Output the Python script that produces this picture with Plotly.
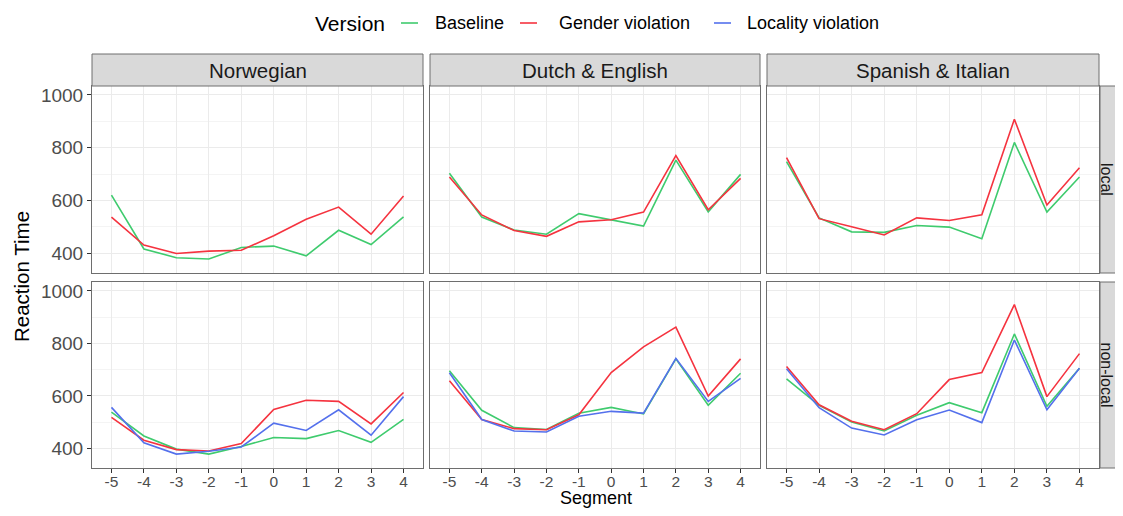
import plotly.graph_objects as go

# ---------------- data ----------------
segments = [-5, -4, -3, -2, -1, 0, 1, 2, 3, 4]
segment_labels = ["-5", "-4", "-3", "-2", "-1", "0", "1", "2", "3", "4"]
languages = ["Norwegian", "Dutch & English", "Spanish & Italian"]
localities = ["local", "non-local"]
versions = ["Baseline", "Gender violation", "Locality violation"]
y_ticks = [400, 600, 800, 1000]
y_minor = [500, 700, 900]

nor_local_base = [620, 416, 383, 378, 422, 427, 390, 487, 433, 538]
nor_local_gender = [537, 431, 399, 408, 411, 466, 529, 575, 472, 617]
dut_local_base = [703, 537, 488, 472, 550, 526, 503, 753, 557, 699]
dut_local_gender = [689, 545, 486, 464, 519, 527, 556, 770, 565, 684]
spa_local_base = [747, 534, 481, 479, 505, 499, 455, 820, 556, 689]
spa_local_gender = [762, 531, 500, 469, 534, 524, 546, 908, 583, 724]

nor_nonlocal_base = [538, 447, 397, 378, 407, 441, 437, 468, 423, 510]
nor_nonlocal_gender = [518, 431, 395, 390, 418, 548, 583, 579, 493, 613]
nor_nonlocal_locality = [556, 421, 378, 389, 405, 496, 468, 547, 450, 597]
dut_nonlocal_base = [696, 545, 479, 472, 534, 556, 531, 741, 564, 686]
dut_nonlocal_gender = [658, 510, 475, 471, 528, 689, 787, 862, 599, 741]
dut_nonlocal_locality = [688, 510, 466, 462, 522, 541, 534, 743, 579, 667]
spa_nonlocal_base = [665, 564, 500, 466, 526, 574, 536, 836, 560, 705]
spa_nonlocal_gender = [712, 566, 503, 471, 532, 662, 689, 948, 597, 761]
spa_nonlocal_locality = [703, 555, 477, 451, 509, 546, 498, 813, 547, 705]

panels = {
    (0, 0): {"Baseline": nor_local_base, "Gender violation": nor_local_gender},
    (0, 1): {"Baseline": dut_local_base, "Gender violation": dut_local_gender},
    (0, 2): {"Baseline": spa_local_base, "Gender violation": spa_local_gender},
    (1, 0): {"Baseline": nor_nonlocal_base, "Gender violation": nor_nonlocal_gender,
             "Locality violation": nor_nonlocal_locality},
    (1, 1): {"Baseline": dut_nonlocal_base, "Gender violation": dut_nonlocal_gender,
             "Locality violation": dut_nonlocal_locality},
    (1, 2): {"Baseline": spa_nonlocal_base, "Gender violation": spa_nonlocal_gender,
             "Locality violation": spa_nonlocal_locality},
}

colors = {"Baseline": "#3FCB6E", "Gender violation": "#F5333F",
          "Locality violation": "#5470EC"}

# ---------------- layout geometry (screen pixels) ----------------
OFF = 8                       # page body margin
W, H = 1123 - 2 * OFF, 516 - 2 * OFF   # fits the window without scrollbars
FONT = "Liberation Sans, Arial, sans-serif"
col_px = [(92, 423), (430, 760), (767, 1099)]
row_px = [(86, 273), (282, 468)]
strip_top = 54
strip_right = (1100, 1140)


def fx(px):
    return (px - OFF) / W


def fy(py):
    return 1 - (py - OFF) / H


fig = go.Figure()
layout = {}
shapes = []
annotations = []

for r in range(2):
    for c in range(3):
        idx = r * 3 + c + 1
        xa = "x" if idx == 1 else f"x{idx}"
        ya = "y" if idx == 1 else f"y{idx}"
        for v in versions:
            if v in panels[(r, c)]:
                fig.add_trace(go.Scatter(
                    x=segments, y=panels[(r, c)][v], mode="lines",
                    line=dict(color=colors[v], width=1.6),
                    name=v, showlegend=False, xaxis=xa, yaxis=ya,
                    hoverinfo="x+y+name"))
        xkey = "xaxis" if idx == 1 else f"xaxis{idx}"
        ykey = "yaxis" if idx == 1 else f"yaxis{idx}"
        bottom = (r == 1)
        left = (c == 0)
        layout[xkey] = dict(
            domain=[fx(col_px[c][0]), fx(col_px[c][1])],
            anchor=ya, range=[-5.6, 4.6],
            tickvals=segments, ticktext=segment_labels,
            showticklabels=bottom, ticks="outside" if bottom else "",
            ticklen=4, tickcolor="#333333", tickwidth=1,
            ticklabelstandoff=-5,
            tickfont=dict(family=FONT, size=15.5, color="#4D4D4D"),
            showgrid=True, gridcolor="#EBEBEB", gridwidth=1,
            zeroline=False, showline=True, mirror=True,
            linecolor="#6E6E6E", linewidth=1, automargin=False,
        )
        layout[ykey] = dict(
            domain=[fy(row_px[r][1]), fy(row_px[r][0])],
            anchor=xa, range=[325, 1034],
            tickvals=y_ticks, ticktext=[str(t) for t in y_ticks],
            showticklabels=left, ticks="outside" if left else "",
            ticklen=4, tickcolor="#333333", tickwidth=1,
            tickfont=dict(family=FONT, size=19, color="#4D4D4D"),
            showgrid=True, gridcolor="#EBEBEB", gridwidth=1,
            minor=dict(tickvals=y_minor, showgrid=True,
                       gridcolor="#F4F4F4", gridwidth=0.8, ticks=""),
            zeroline=False, showline=True, mirror=True,
            linecolor="#6E6E6E", linewidth=1, automargin=False,
        )

# top strips
for c, lang in enumerate(languages):
    shapes.append(dict(type="rect", xref="paper", yref="paper",
                       x0=fx(col_px[c][0]), x1=fx(col_px[c][1]),
                       y0=fy(row_px[0][0]), y1=fy(strip_top),
                       fillcolor="#D9D9D9", line=dict(color="#6E6E6E", width=1)))
    annotations.append(dict(text=lang, xref="paper", yref="paper",
                            x=fx((col_px[c][0] + col_px[c][1]) / 2),
                            y=fy((strip_top + row_px[0][0]) / 2),
                            showarrow=False, xanchor="center", yanchor="middle",
                            font=dict(family=FONT, size=20.5, color="#1A1A1A")))

# right strips
for r, loc in enumerate(localities):
    shapes.append(dict(type="rect", xref="paper", yref="paper",
                       x0=fx(strip_right[0]), x1=fx(strip_right[1]),
                       y0=fy(row_px[r][1]), y1=fy(row_px[r][0]),
                       fillcolor="#D9D9D9", line=dict(color="#6E6E6E", width=1)))
    annotations.append(dict(text=loc, xref="paper", yref="paper",
                            x=fx(1106.5), y=fy((row_px[r][0] + row_px[r][1]) / 2),
                            showarrow=False, xanchor="center", yanchor="middle",
                            textangle=90,
                            font=dict(family=FONT, size=16, color="#1A1A1A")))

# axis titles
annotations.append(dict(text="Segment", xref="paper", yref="paper",
                        x=fx(595.5), y=fy(497.5), showarrow=False,
                        xanchor="center", yanchor="middle",
                        font=dict(family=FONT, size=18, color="#000000")))
annotations.append(dict(text="Reaction Time", xref="paper", yref="paper",
                        x=fx(21), y=fy(277), showarrow=False, textangle=-90,
                        xanchor="center", yanchor="middle",
                        font=dict(family=FONT, size=20.5, color="#000000")))

# legend (drawn manually to mimic ggplot key layout)
leg_y = 23
annotations.append(dict(text="Version", xref="paper", yref="paper",
                        x=fx(349.5), y=fy(leg_y), showarrow=False,
                        xanchor="center", yanchor="middle",
                        font=dict(family=FONT, size=21, color="#000000")))
legend_items = [("Baseline", 401, 418, 469.5),
                ("Gender violation", 520, 537, 624.5),
                ("Locality violation", 714, 731, 812.5)]
for name, lx0, lx1, tx in legend_items:
    shapes.append(dict(type="line", xref="paper", yref="paper",
                       x0=fx(lx0), x1=fx(lx1), y0=fy(leg_y), y1=fy(leg_y),
                       line=dict(color=colors[name], width=1.6)))
    annotations.append(dict(text=name, xref="paper", yref="paper",
                            x=fx(tx), y=fy(leg_y), showarrow=False,
                            xanchor="center", yanchor="middle",
                            font=dict(family=FONT, size=18, color="#000000")))

fig.update_layout(
    width=W, height=H,
    margin=dict(l=0, r=0, t=0, b=0, autoexpand=False),
    paper_bgcolor="white", plot_bgcolor="white",
    showlegend=False, shapes=shapes, annotations=annotations,
    font=dict(family=FONT),
    **layout,
)

fig.write_html("out.html")
